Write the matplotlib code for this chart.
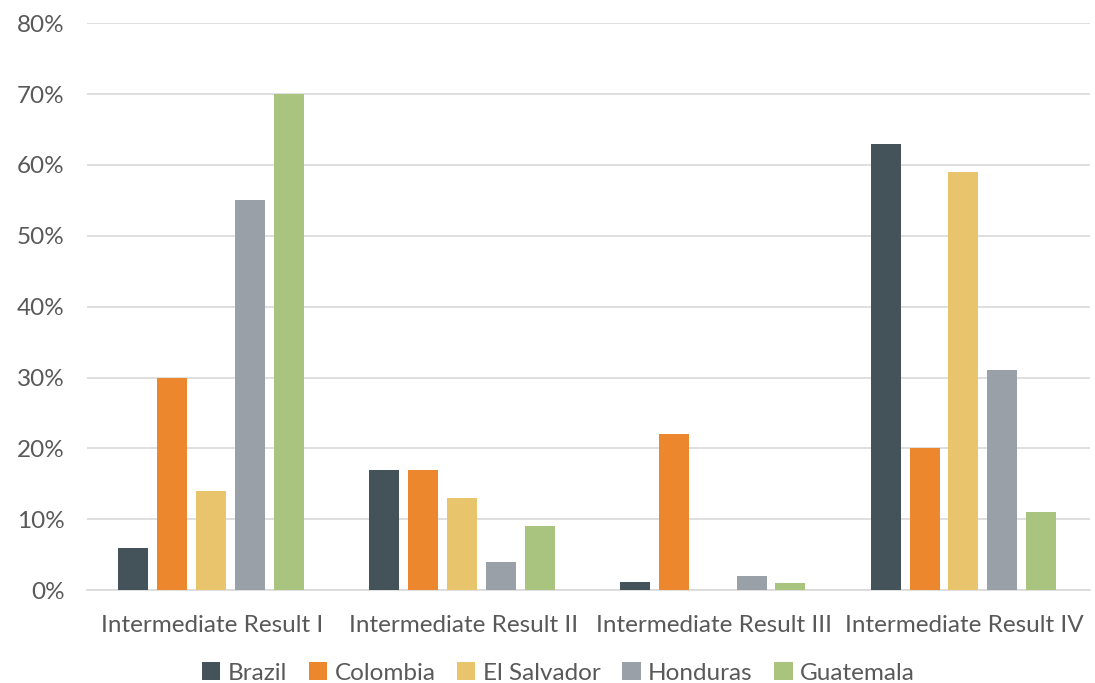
import numpy as np
import matplotlib.pyplot as plt

categories = ["Intermediate Result I", "Intermediate Result II",
              "Intermediate Result III", "Intermediate Result IV"]
countries = ["Brazil", "Colombia", "El Salvador", "Honduras", "Guatemala"]
brazil = [6, 17, 1.1, 63]
colombia = [30, 17, 22, 20]
el_salvador = [14, 13, 0, 59]
honduras = [55, 4, 2, 31]
guatemala = [70, 9, 1, 11]
colors = ["#44525a", "#ed872d", "#e8c46c", "#99a0a8", "#a9c47f"]

plt.rcParams['font.family'] = ['Lato', 'DejaVu Sans']
text_col = "#595959"

fig = plt.figure(figsize=(10.95, 6.83), dpi=100)
ax = fig.add_axes([0.0795, 0.136, 0.916, 0.83])

x = np.arange(len(categories))
width = 0.12
step = 0.155
series = [brazil, colombia, el_salvador, honduras, guatemala]
for i, (name, vals) in enumerate(zip(countries, series)):
    ax.bar(x - 0.005 + (i - 2) * step, vals, width, color=colors[i], label=name, zorder=3)

ax.set_xlim(-0.5, 3.5)
ax.set_ylim(0, 80)
ax.set_yticks(range(0, 81, 10))
ax.set_yticklabels([f"{v}%" for v in range(0, 81, 10)])
ax.set_xticks(x)
ax.set_xticklabels(categories)
ax.tick_params(axis='both', length=0, labelsize=17.5, colors=text_col)
ax.tick_params(axis='x', pad=18)
ax.tick_params(axis='y', pad=16)
ax.grid(axis='y', color="#d9d9d9", linewidth=1.2, zorder=0)
for s in ["top", "right", "left"]:
    ax.spines[s].set_visible(False)
ax.spines["bottom"].set_color("#d9d9d9")
ax.spines["bottom"].set_linewidth(1.2)

leg = fig.legend(loc="lower center", bbox_to_anchor=(0.51, -0.033), ncol=5, frameon=False,
                 fontsize=17.5, handlelength=0.75, handleheight=0.75, handletextpad=0.3,
                 columnspacing=0.9)
for t in leg.get_texts():
    t.set_color(text_col)

fig.savefig("out.png", dpi=100)
